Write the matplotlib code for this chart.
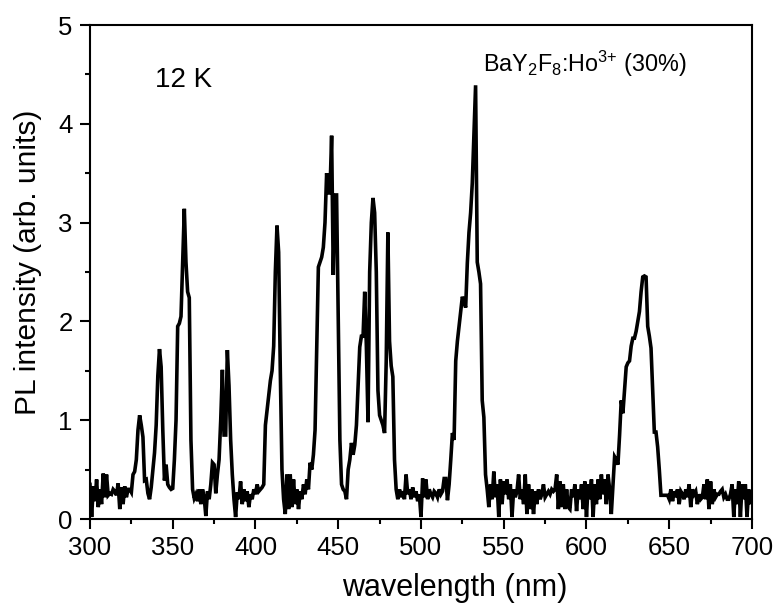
import matplotlib

matplotlib.use("Agg")
import matplotlib.pyplot as plt
from matplotlib.ticker import MultipleLocator

plt.rcParams["font.family"] = ["Liberation Sans", "DejaVu Sans"]
plt.rcParams["mathtext.fontset"] = "custom"
plt.rcParams["mathtext.rm"] = "Liberation Sans"
plt.rcParams["mathtext.it"] = "Liberation Sans:italic"

# wavelength grid, 1 nm steps (300 .. 700 nm)
start_nm = 300
stop_nm = 700

# PL intensity, one row per 10 nm
intensity = [
    0.35, 0.02, 0.33, 0.18, 0.40, 0.12, 0.30, 0.15, 0.46, 0.22,  # 300
    0.45, 0.24, 0.26, 0.25, 0.30, 0.28, 0.24, 0.36, 0.10, 0.32,  # 310
    0.15, 0.33, 0.22, 0.30, 0.30, 0.27, 0.45, 0.48, 0.60, 0.90,  # 320
    1.05, 0.95, 0.83, 0.39, 0.40, 0.26, 0.20, 0.32, 0.50, 0.67,  # 330
    0.95, 1.45, 1.72, 1.54, 0.90, 0.39, 0.55, 0.35, 0.32, 0.30,  # 340
    0.31, 0.60, 1.00, 1.95, 1.98, 2.05, 2.60, 3.14, 2.60, 2.30,  # 350
    2.24, 0.80, 0.30, 0.21, 0.25, 0.18, 0.30, 0.15, 0.30, 0.22,  # 360
    0.03, 0.28, 0.20, 0.35, 0.57, 0.55, 0.26, 0.45, 0.60, 1.00,  # 370
    1.51, 0.85, 0.85, 1.71, 1.35, 0.80, 0.45, 0.20, 0.02, 0.27,  # 380
    0.20, 0.38, 0.15, 0.30, 0.18, 0.28, 0.12, 0.25, 0.20, 0.30,  # 390
    0.25, 0.35, 0.28, 0.30, 0.32, 0.35, 0.95, 1.10, 1.25, 1.40,  # 400
    1.50, 1.75, 2.50, 2.97, 2.70, 1.50, 0.50, 0.20, 0.05, 0.45,  # 410
    0.10, 0.45, 0.12, 0.40, 0.15, 0.30, 0.10, 0.28, 0.20, 0.35,  # 420
    0.25, 0.40, 0.30, 0.57, 0.50, 0.65, 0.90, 1.70, 2.55, 2.60,  # 430
    2.65, 2.75, 3.00, 3.50, 3.30, 3.30, 3.88, 2.47, 3.28, 3.28,  # 440
    2.00, 0.80, 0.35, 0.30, 0.28, 0.20, 0.50, 0.60, 0.77, 0.65,  # 450
    0.75, 0.95, 1.35, 1.74, 1.85, 1.85, 2.30, 1.75, 0.98, 2.50,  # 460
    3.00, 3.25, 3.10, 2.50, 1.30, 1.05, 1.00, 0.95, 0.87, 1.60,  # 470
    2.90, 1.80, 1.55, 1.44, 0.60, 0.30, 0.20, 0.30, 0.22, 0.28,  # 480
    0.20, 0.45, 0.25, 0.30, 0.20, 0.32, 0.22, 0.28, 0.18, 0.25,  # 490
    0.02, 0.41, 0.22, 0.40, 0.20, 0.30, 0.25, 0.22, 0.28, 0.26,  # 500
    0.22, 0.30, 0.25, 0.28, 0.41, 0.41, 0.19, 0.35, 0.60, 0.87,  # 510
    0.80, 1.60, 1.80, 1.95, 2.10, 2.25, 2.20, 2.14, 2.59, 2.90,  # 520
    3.10, 3.40, 3.90, 4.39, 2.60, 2.50, 2.38, 1.20, 1.03, 0.45,  # 530
    0.30, 0.12, 0.35, 0.20, 0.48, 0.22, 0.35, 0.02, 0.40, 0.15,  # 540
    0.38, 0.25, 0.40, 0.20, 0.35, 0.02, 0.30, 0.22, 0.28, 0.45,  # 550
    0.20, 0.30, 0.15, 0.45, 0.05, 0.35, 0.10, 0.30, 0.05, 0.28,  # 560
    0.15, 0.30, 0.20, 0.25, 0.35, 0.22, 0.25, 0.28, 0.25, 0.30,  # 570
    0.28, 0.30, 0.45, 0.10, 0.38, 0.12, 0.35, 0.10, 0.30, 0.12,  # 580
    0.10, 0.30, 0.22, 0.35, 0.08, 0.30, 0.20, 0.35, 0.10, 0.38,  # 590
    0.02, 0.35, 0.20, 0.40, 0.02, 0.35, 0.15, 0.40, 0.20, 0.45,  # 600
    0.25, 0.40, 0.15, 0.45, 0.30, 0.05, 0.35, 0.63, 0.60, 0.55,  # 610
    0.85, 1.20, 1.07, 1.30, 1.54, 1.58, 1.60, 1.75, 1.83, 1.83,  # 620
    1.90, 2.00, 2.10, 2.30, 2.45, 2.46, 2.45, 1.95, 1.85, 1.73,  # 630
    1.30, 0.88, 0.88, 0.73, 0.50, 0.24, 0.24, 0.24, 0.24, 0.24,  # 640
    0.20, 0.30, 0.18, 0.28, 0.22, 0.30, 0.15, 0.28, 0.25, 0.20,  # 650
    0.30, 0.22, 0.35, 0.12, 0.30, 0.25, 0.28, 0.15, 0.25, 0.20,  # 660
    0.22, 0.35, 0.20, 0.40, 0.10, 0.38, 0.15, 0.30, 0.22, 0.25,  # 670
    0.25, 0.28, 0.30, 0.22, 0.25, 0.20, 0.20, 0.25, 0.35, 0.02,  # 680
    0.30, 0.15, 0.38, 0.02, 0.35, 0.20, 0.35, 0.02, 0.30, 0.15,  # 690
    0.25,  # 700
]
wavelength = list(range(start_nm, stop_nm + 1))

x_ticks = [300, 350, 400, 450, 500, 550, 600, 650, 700]
y_ticks = [0, 1, 2, 3, 4, 5]


def main() -> None:
    fig = plt.figure(figsize=(7.77, 6.03), dpi=100)
    ax = fig.add_axes([0.1158, 0.1393, 0.852, 0.8192])

    ax.plot(wavelength, intensity, color="black", linewidth=2.6, solid_joinstyle="miter")

    ax.set_xlim(300, 700)
    ax.set_ylim(0, 5)
    ax.set_xticks(x_ticks)
    ax.set_yticks(y_ticks)
    ax.xaxis.set_minor_locator(MultipleLocator(25))
    ax.yaxis.set_minor_locator(MultipleLocator(0.5))
    ax.tick_params(which="both", direction="out", top=False, right=False, width=1.5, labelsize=18.5)
    ax.tick_params(which="major", length=7.5, pad=5)
    ax.tick_params(which="minor", length=3.8)
    for spine in ax.spines.values():
        spine.set_linewidth(1.5)

    ax.set_xlabel("wavelength (nm)", fontsize=22)
    ax.set_ylabel("PL intensity (arb. units)", fontsize=21.5)
    ax.xaxis.set_label_coords(0.551, -0.11)
    ax.yaxis.set_label_coords(-0.073, 0.52)

    ax.text(339.3, 4.37, "12 K", fontsize=20, ha="left", va="baseline")
    ax.text(
        537.5, 4.53, r"BaY$_2$F$_8$:Ho$^{3{+}}$ (30%)",
        fontsize=16.8, ha="left", va="baseline",
    )

    fig.savefig("out.png", dpi=100)
    plt.close(fig)


if __name__ == "__main__":
    main()
